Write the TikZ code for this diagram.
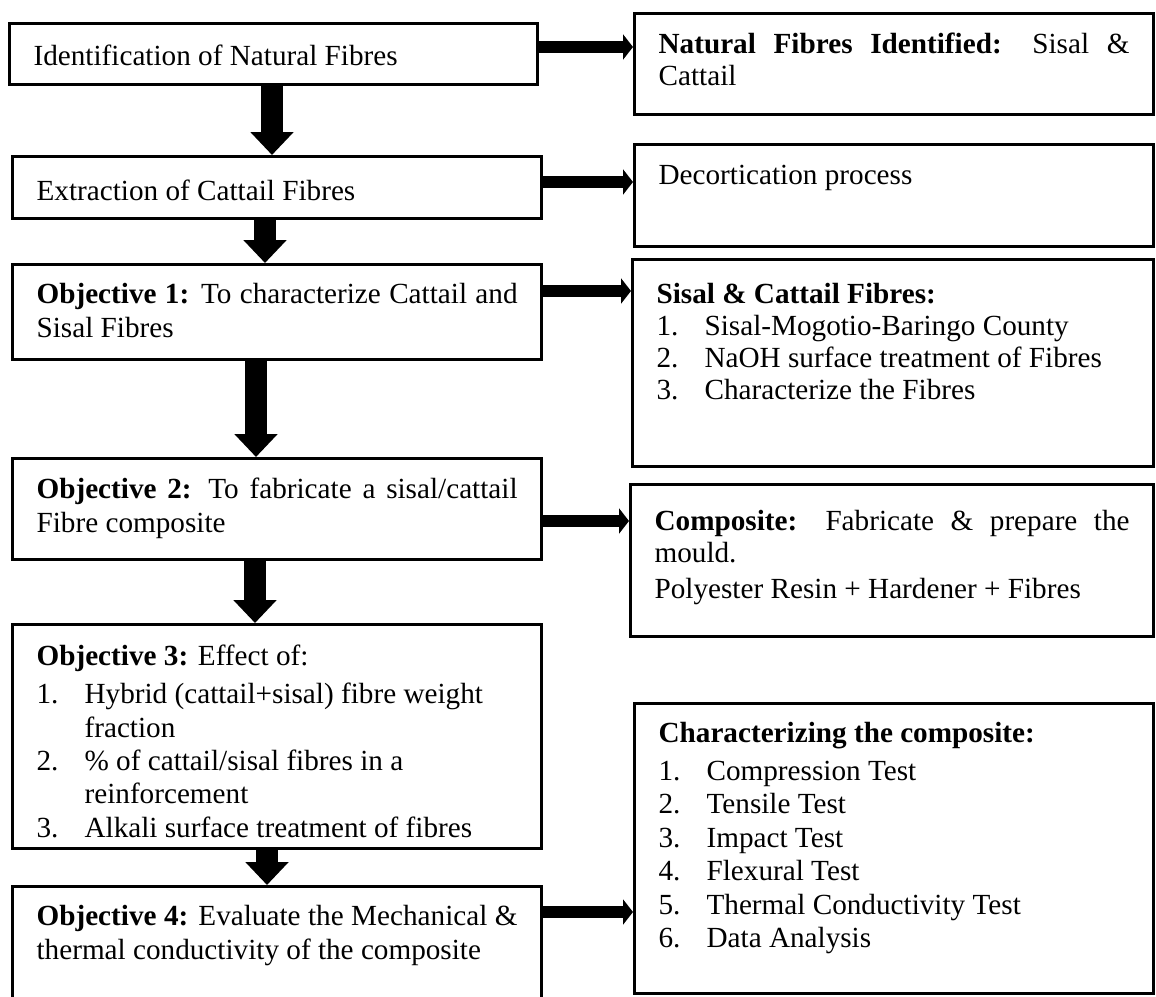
\documentclass[tikz,border=0pt]{standalone}
\usepackage{fontspec}
\setmainfont{Liberation Serif}
\usetikzlibrary{arrows.meta}

% box text: width, height, top gap, content
\newcommand{\boxbody}[4]{\parbox[c][#2][t]{#1}{\vspace*{#3}#4}}
% numbered line with hanging indent
\newcommand{\numitem}[2]{\par\hangindent=24pt\hangafter=1\noindent\makebox[24pt][l]{#1.}#2}

\begin{document}
\begin{tikzpicture}[x=0.5pt, y=-0.5pt,
    stage/.style={draw, line width=1.6pt, anchor=north west, inner xsep=12pt, inner ysep=0pt, font=\fontsize{14.6}{16.7}\selectfont},
    tight/.style={font=\fontsize{14.6}{16}\selectfont},
    downarr/.style={line width=11pt, -{Triangle[length=11.5pt, width=21pt]},
        preaction={draw=white, line width=13pt, arrows=-, shorten >=11pt}},
    sidearr/.style={line width=6pt, -{Triangle[length=5pt, width=12.5pt]},
        preaction={draw=white, line width=7.5pt, arrows=-, shorten >=5pt}}]
        \useasboundingbox (0,0) rectangle (1156,996);
        % left column
        \node[stage] (ident) at (8,22) {\boxbody{240pt}{30.5pt}{10.9pt}{Identification of Natural Fibres}};
        \node[stage] (extract) at (11,155) {\boxbody{240.5pt}{31pt}{11.9pt}{Extraction of Cattail Fibres}};
        \node[stage] (objone) at (11,263) {\boxbody{240.5pt}{47.5pt}{9.4pt}{\textbf{Objective 1:} To characterize Cattail and\linebreak Sisal Fibres}};
        \node[stage] (objtwo) at (11,457) {\boxbody{240.5pt}{50.5pt}{9.9pt}{\textbf{Objective 2:} To fabricate a sisal/cattail\linebreak Fibre composite}};
        \node[stage] (objthree) at (11,623) {\boxbody{240.5pt}{112pt}{10.4pt}{\raggedright\textbf{Objective 3:} Effect of:\par\vspace{2.2pt}
            \numitem{1}{Hybrid (cattail+sisal) fibre weight\newline fraction}
            \numitem{2}{\% of cattail/sisal fibres in a\newline reinforcement}
            \numitem{3}{Alkali surface treatment of fibres}}};
        \node[stage] (objfour) at (11,885) {\boxbody{240.5pt}{65pt}{9.4pt}{\textbf{Objective 4:} Evaluate the Mechanical \&\linebreak thermal conductivity of the composite}};
        % right column
        \node[stage, tight] (found) at (633,12) {\boxbody{235.5pt}{50.5pt}{9.9pt}{\textbf{Natural Fibres Identified:} Sisal \&\linebreak Cattail}};
        \node[stage] (decort) at (633,143) {\boxbody{235.5pt}{51pt}{10.4pt}{Decortication process}};
        \node[stage, tight] (fibres) at (631,258) {\boxbody{236.5pt}{103.5pt}{11.9pt}{\raggedright\textbf{Sisal \& Cattail Fibres:}
            \numitem{1}{Sisal-Mogotio-Baringo County}
            \numitem{2}{NaOH surface treatment of Fibres}
            \numitem{3}{Characterize the Fibres}}};
        \node[stage, tight] (compos) at (629,483) {\boxbody{237.5pt}{76pt}{13pt}{\textbf{Composite:} Fabricate \& prepare the\linebreak mould.\par\vspace{2pt}\noindent Polyester Resin + Hardener + Fibres}};
        \node[stage] (charac) at (633,702) {\boxbody{235.5pt}{145pt}{9.4pt}{\raggedright\textbf{Characterizing the composite:}\par\vspace{2.2pt}
            \numitem{1}{Compression Test}
            \numitem{2}{Tensile Test}
            \numitem{3}{Impact Test}
            \numitem{4}{Flexural Test}
            \numitem{5}{Thermal Conductivity Test}
            \numitem{6}{Data Analysis}}};
        % flow downwards
        \draw[downarr] (ident.south -| 272,0) -- (extract.north -| 272,0);
        \draw[downarr] (extract.south -| 265,0) -- (objone.north -| 265,0);
        \draw[downarr] (objone.south -| 256,0) -- (objtwo.north -| 256,0);
        \draw[downarr] (objtwo.south -| 255,0) -- (objthree.north -| 255,0);
        \draw[downarr] (objthree.south -| 267,0) -- (objfour.north -| 267,0);
        % links to the right
        \draw[sidearr] (ident.east |- 0,47) -- (found.west |- 0,47);
        \draw[sidearr] (extract.east |- 0,182) -- (decort.west |- 0,182);
        \draw[sidearr] (objone.east |- 0,291) -- (fibres.west |- 0,291);
        \draw[sidearr] (objtwo.east |- 0,521) -- (compos.west |- 0,521);
        \draw[sidearr] (objfour.east |- 0,912) -- (charac.west |- 0,912);
\end{tikzpicture}
\end{document}
